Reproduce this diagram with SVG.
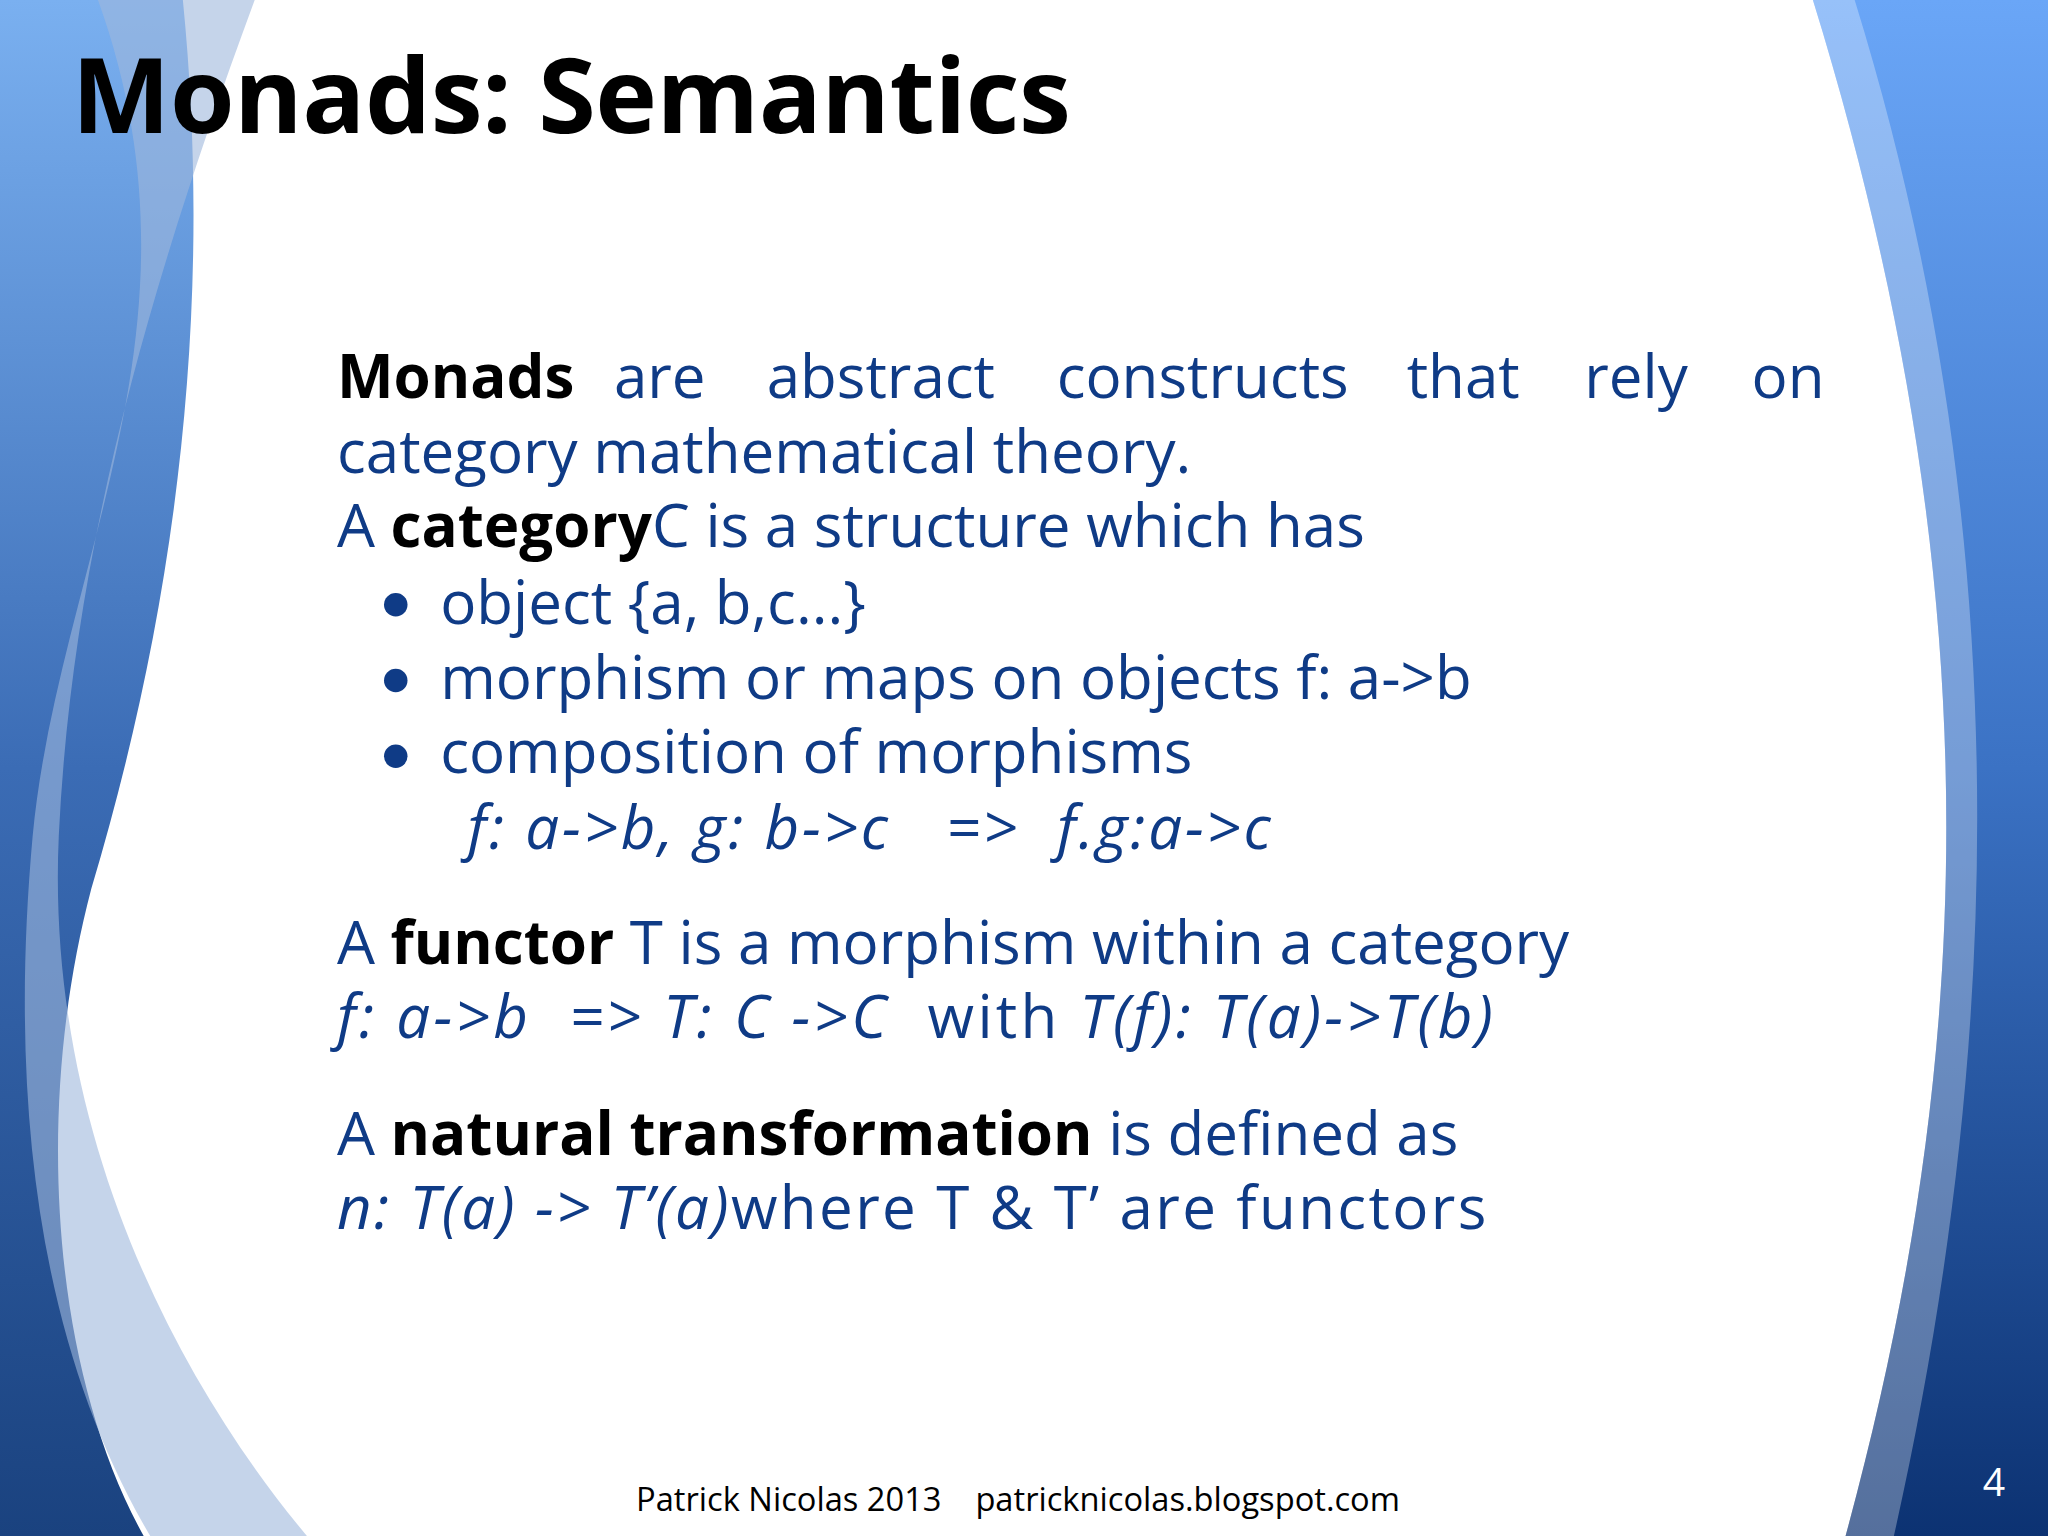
<svg xmlns="http://www.w3.org/2000/svg" width="2048" height="1536" viewBox="0 0 2048 1536">
<style>
.b{font-family:"Open Sans","DejaVu Sans",sans-serif;font-size:46px;fill:#0f3b86}
.k{fill:#000;font-weight:bold}
.i{font-style:italic}
</style>
<defs>
<linearGradient id="gl" x1="0" y1="0" x2="0" y2="1"><stop offset="0" stop-color="#7ab0f0"/><stop offset="0.5" stop-color="#3b6cb5"/><stop offset="1" stop-color="#1a427f"/></linearGradient>
<linearGradient id="gr" x1="0" y1="0" x2="0" y2="1"><stop offset="0" stop-color="#6aa6f7"/><stop offset="0.5" stop-color="#3b72c4"/><stop offset="1" stop-color="#0c3272"/></linearGradient>
</defs>
<rect width="2048" height="1536" fill="#fff"/>
<g transform="scale(1.30612)">
<path d="M0,0 L140,0 C165,250 130,480 70,680 C25,850 40,1050 110,1176 L0,1176 Z" fill="url(#gl)"/>
<path d="M75,0 L195,0 C110,230 55,430 45,640 C35,860 130,1050 235,1176 L115,1176 C35,1040 5,860 25,640 C45,430 165,250 75,0 Z" fill="#9fb8dc" opacity="0.6"/>
<path d="M1388,0 L1568,0 L1568,1176 L1413,1176 C1510,820 1530,460 1388,0 Z" fill="url(#gr)"/>
<path d="M1388,0 L1420,0 C1550,420 1530,820 1450,1176 L1413,1176 C1510,820 1530,460 1388,0 Z" fill="#ffffff" opacity="0.3"/>
<text x="55" y="102" font-family="'Open Sans','DejaVu Sans',sans-serif" font-size="80" font-weight="bold" fill="#000" textLength="765">Monads: Semantics</text>
<g class="b">
<text y="305"><tspan x="258" class="k">Monads</tspan><tspan x="470">are</tspan><tspan x="587">abstract</tspan><tspan x="809">constructs</tspan><tspan x="1077">that</tspan><tspan x="1213">rely</tspan><tspan x="1341">on</tspan></text>
<text x="258" y="362">category mathematical theory.</text>
<text x="258" y="419">A <tspan class="k">category</tspan>C is a structure which has</text>
<circle cx="303" cy="463" r="9" fill="#0f3b86"/>
<circle cx="303" cy="521" r="9" fill="#0f3b86"/>
<circle cx="303" cy="579" r="9" fill="#0f3b86"/>
<text x="337" y="478">object {a, b,c...}</text>
<text x="337" y="535">morphism or maps on objects f: a-&gt;b</text>
<text x="337" y="592">composition of morphisms</text>
<text x="358" y="650" class="i" xml:space="preserve" textLength="615">f: a-&gt;b, g: b-&gt;c   =&gt;  f.g:a-&gt;c</text>
<text x="258" y="738">A <tspan class="k">functor</tspan> T is a morphism within a category</text>
<text x="258" y="795" xml:space="preserve" textLength="885"><tspan class="i">f: a-&gt;b  =&gt; T: C -&gt;C</tspan>  with <tspan class="i">T(f): T(a)-&gt;T(b)</tspan></text>
<text x="258" y="884">A <tspan class="k">natural transformation</tspan> is defined as</text>
<text x="258" y="941" textLength="880"><tspan class="i">n: T(a) -&gt; T’(a)</tspan>where T &amp; T’ are functors</text>
</g>
<text x="487" y="1157" font-family="'Open Sans','DejaVu Sans',sans-serif" font-size="25" fill="#000" xml:space="preserve">Patrick Nicolas 2013    patricknicolas.blogspot.com</text>
<text x="1518" y="1145" font-family="'Open Sans','DejaVu Sans',sans-serif" font-size="30" fill="#fff">4</text>
</g>
</svg>
